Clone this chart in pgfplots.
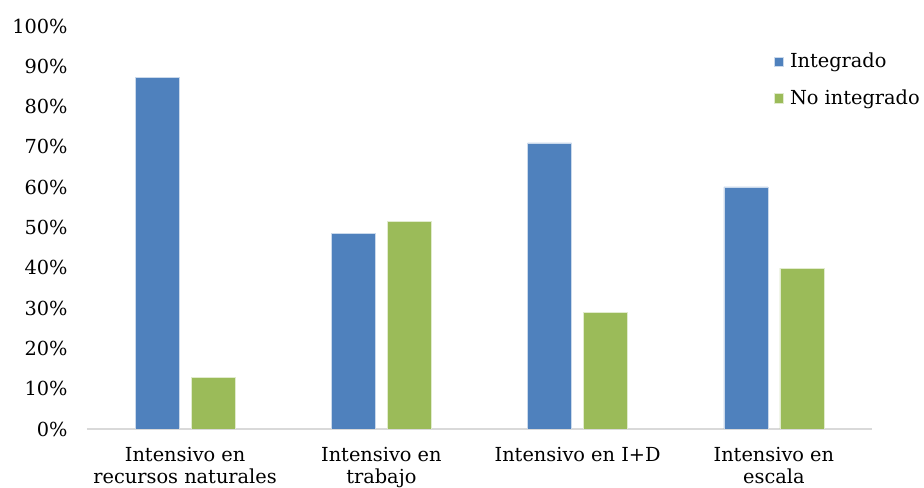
\documentclass[border=0pt]{standalone}
\usepackage{fontspec}
\setmainfont{DejaVu Serif}
\usepackage{pgfplots}
\pgfplotsset{compat=1.18}
\definecolor{cblue}{HTML}{4F81BD}
\definecolor{cgreen}{HTML}{9BBB59}
\definecolor{axgray}{HTML}{D9D9D9}
\begin{document}
\begin{tikzpicture}
\path[use as bounding box] (0pt,0pt) rectangle (693pt,366pt);
\begin{axis}[
  at={(65.25pt,44.25pt)}, anchor=south west,
  scale only axis, width=588.75pt, height=302.25pt,
  xmin=-0.5, xmax=3.5, ymin=0, ymax=100,
  ybar, bar width=33pt,
  axis line style={draw=none},
  axis x line*=bottom,
  x axis line style={draw=axgray, line width=1.2pt},
  ytick={0,10,...,100},
  yticklabel={\pgfmathprintnumber{\tick}\%},
  /pgf/number format/assume math mode=true,
  xtick=data,
  xticklabels={{Intensivo en\\recursos naturales},{Intensivo en\\trabajo},{Intensivo en I+D},{Intensivo en\\escala}},
  xticklabel style={align=center, font=\fontsize{14.5}{16.5}\selectfont, yshift=-10pt},
  yticklabel style={font=\fontsize{14.5}{17}\selectfont, xshift=-11pt},
  major tick length=0pt,
  tick style={draw=none},
  legend style={at={(0.875,0.94)}, anchor=north west, draw=none, fill=none,
    font=\fontsize{14.5}{17}\selectfont, row sep=11pt, inner sep=0pt,
    /tikz/every odd column/.append style={column sep=3pt}},
  legend cell align=left,
  legend image code/.code={\fill[#1] (0pt,-3.5pt) rectangle (6.5pt,3.5pt);},
]
\addplot[fill=cblue, draw=white!70!cblue, bar shift=-21pt] coordinates {(0,87.2) (1,48.5) (2,71.0) (3,60.1)};
\addplot[fill=cgreen, draw=white!70!cgreen, bar shift=21pt] coordinates {(0,12.8) (1,51.5) (2,29.0) (3,39.9)};
\legend{Integrado, No integrado}
\end{axis}
\end{tikzpicture}
\end{document}
